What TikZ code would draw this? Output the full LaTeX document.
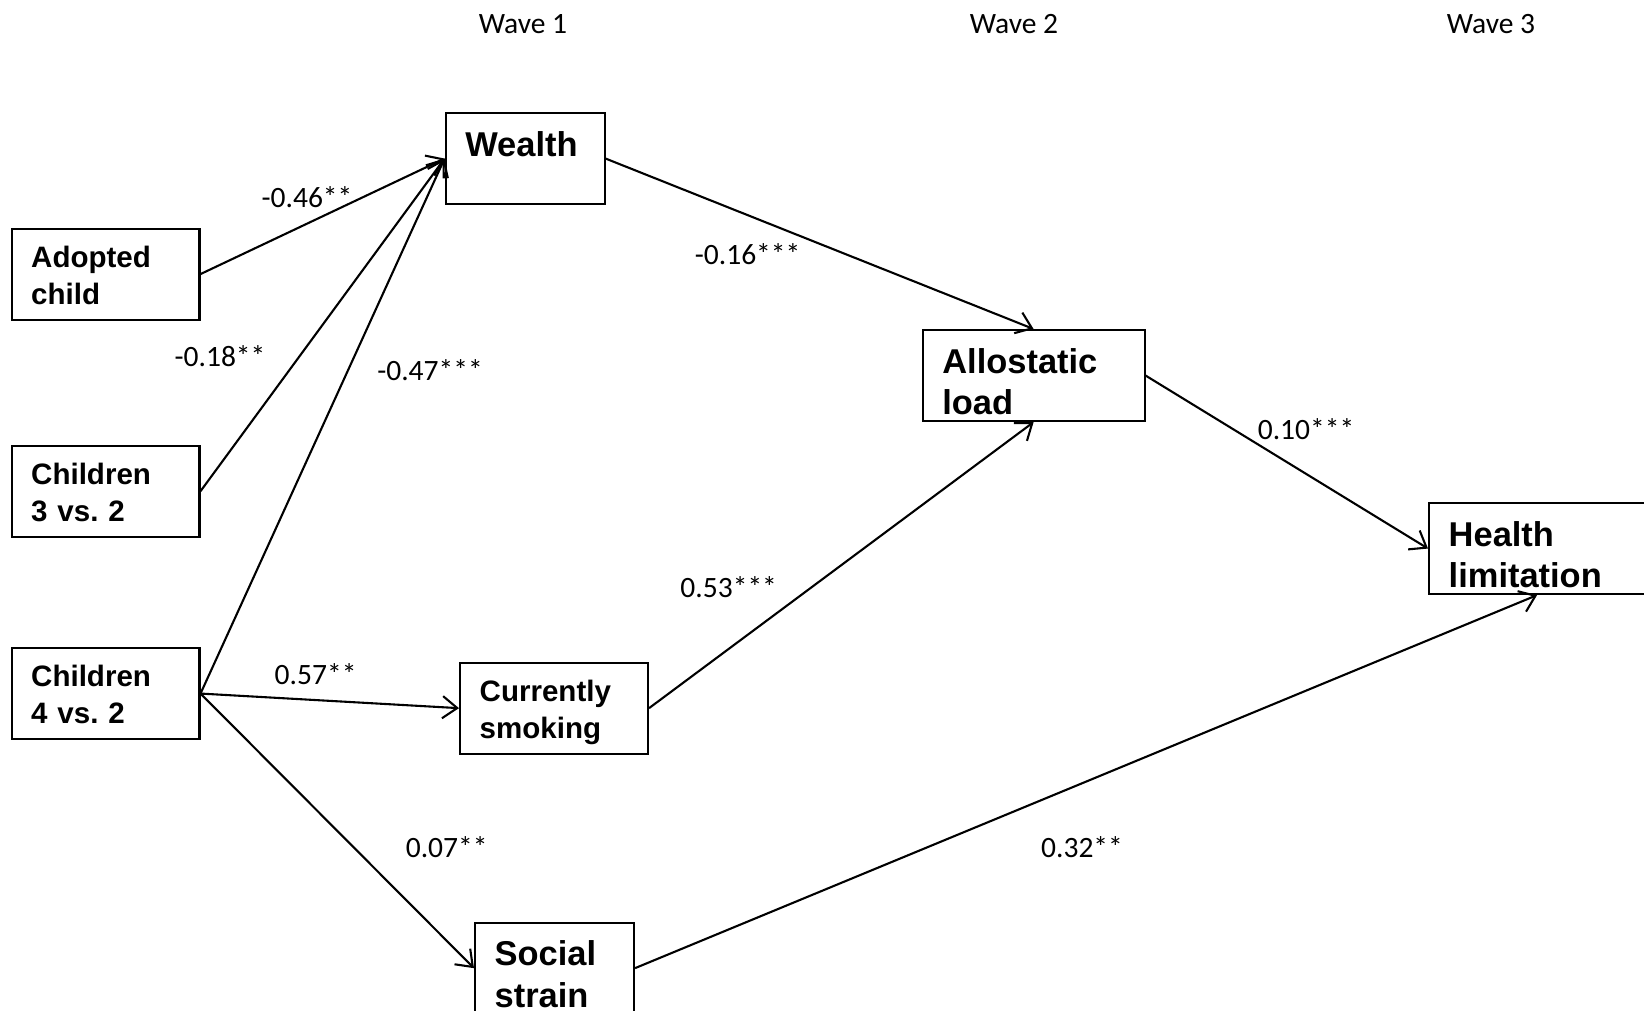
\documentclass[tikz,border=0pt]{standalone}
\usepackage{fontspec}
\setmainfont{Carlito}
\newfontfamily\boxfont{Liberation Sans}
\usetikzlibrary{arrows.meta}
\frenchspacing

\begin{document}
\begin{tikzpicture}[x=0.4065pt, y=-0.4065pt, >={Straight Barb[length=6pt,width=9pt]}, line width=0.85pt,
  coef/.style={font=\fontsize{12}{14}\selectfont, inner sep=0pt},
  smallbox/.style={draw, anchor=north west, align=left, inner xsep=8pt, inner ysep=0pt, text width=60.4pt, text height=15.8pt, text depth=21.2pt, font=\boxfont\bfseries\fontsize{12}{14.9}\selectfont},
  bigbox/.style={draw, anchor=north west, align=left, inner xsep=8pt, inner ysep=0pt, text height=17.5pt, text depth=19.5pt, font=\boxfont\bfseries\fontsize{14}{17}\selectfont}]
\useasboundingbox (0,0) rectangle (1644,1011);
\node[coef] (w1) at (523,24) {Wave 1};
\node[coef] (w2) at (1014,24) {Wave 2};
\node[coef] (w3) at (1491,24) {Wave 3};
\node[smallbox] (adopt) at (10.5,227.5) {Adopted\\child};
\node[smallbox] (kids3) at (10.5,444.6) {Children\\3 vs. 2};
\node[smallbox] (kids4) at (10.5,647) {Children\\4 vs. 2};
\node[bigbox, text width=48.6pt] (wealth) at (444.6,112) {Wealth};
\node[smallbox] (smoke) at (459,661.6) {Currently\\smoking};
\node[bigbox, text width=48.6pt] (strain) at (474,921.6) {Social\\strain};
\node[bigbox, text width=74.2pt] (allo) at (921.6,329) {Allostatic\\load};
\node[bigbox, text width=71.8pt] (health) at (1428,502) {Health\\limitation};
\draw[->] (adopt.east) -- (wealth.west);
\draw[->] (kids3.east) -- (wealth.west);
\draw[->] (kids4.east) -- (wealth.west);
\draw[->] (kids4.east) -- (smoke.west);
\draw[->] (kids4.east) -- (strain.west);
\draw[->] (wealth.east) -- (allo.north);
\draw[->] (smoke.east) -- (allo.south);
\draw[->] (allo.east) -- (health.west);
\draw[->] (strain.east) -- (health.south);
\node[coef] (c1) at (307,197) {-0.46**};
\node[coef] (c2) at (220,356.5) {-0.18**};
\node[coef] (c3) at (430,370) {-0.47***};
\node[coef] (c4) at (747.6,253.7) {-0.16***};
\node[coef] (c5) at (315.6,674) {0.57**};
\node[coef] (c6) at (446.7,847) {0.07**};
\node[coef] (c7) at (728.7,587) {0.53***};
\node[coef] (c8) at (1306,428.8) {0.10***};
\node[coef] (c9) at (1082,847) {0.32**};
\end{tikzpicture}
\end{document}
